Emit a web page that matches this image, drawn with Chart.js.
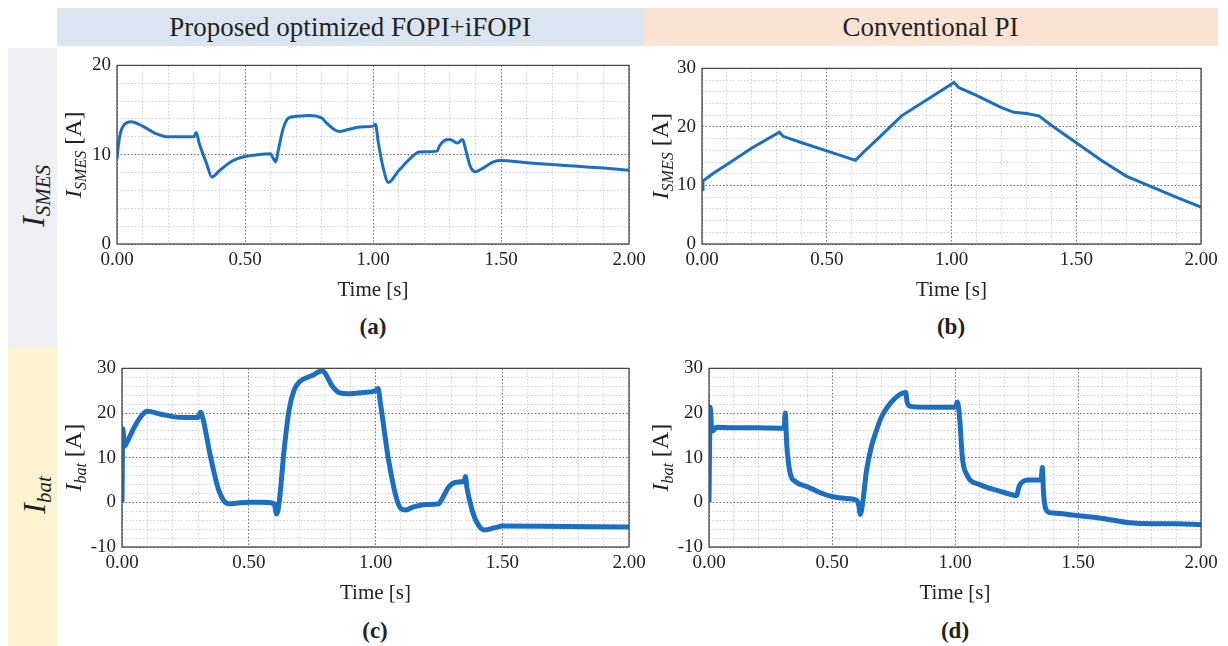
<!DOCTYPE html>
<html>
<head>
<meta charset="utf-8">
<script src="https://cdn.jsdelivr.net/npm/chart.js@4"></script>
<style>
  body { margin: 0; width: 1228px; height: 646px; background: #fff; overflow: hidden; position: relative; font-family: "Liberation Serif", serif; }
  .band { position: absolute; }
  .head { display: flex; align-items: center; justify-content: center; font-size: 27px; color: #222; }
  .side { position: absolute; transform: translate(-50%, -50%) rotate(-90deg); white-space: nowrap; font-size: 32px; font-style: italic; color: #222; }
  .side sub { font-size: 21px; vertical-align: -6px; }
  .cap { position: absolute; transform: translate(-50%, -50%); font-size: 23px; font-weight: bold; color: #222; }
  canvas { position: absolute; }
</style>
</head>
<body>
<div class="band head" style="left:57px;top:8px;width:586px;height:38px;background:#dbe5f1;">Proposed optimized FOPI+iFOPI</div>
<div class="band head" style="left:643px;top:8px;width:575px;height:38px;background:#fbe3d4;">Conventional PI</div>
<div class="band" style="left:8px;top:48px;width:49px;height:300px;background:#eef0f3;"></div>
<div class="band" style="left:8px;top:348px;width:49px;height:298px;background:#fdf3d0;"></div>
<div class="side" style="left:35px;top:196px;">I<sub>SMES</sub></div>
<div class="side" style="left:36px;top:495px;">I<sub>bat</sub></div>

<canvas id="chartA"></canvas>
<canvas id="chartB"></canvas>
<canvas id="chartC"></canvas>
<canvas id="chartD"></canvas>

<div class="cap" style="left:373px;top:327px;">(a)</div>
<div class="cap" style="left:951px;top:327px;">(b)</div>
<div class="cap" style="left:375px;top:631px;">(c)</div>
<div class="cap" style="left:955px;top:631px;">(d)</div>

<script>
// ---- time [s], current [A] ----
const ismesFopi = [
  [0, 9.5], [0.005, 11.0], [0.015, 12.6], [0.03, 13.4], [0.055, 13.7], [0.1, 13.2],
  [0.15, 12.4], [0.2, 12.0], [0.25, 12.0], [0.3, 12.0], [0.31, 12.5], [0.32, 11.4],
  [0.35, 9.0], [0.37, 7.5], [0.4, 8.2], [0.45, 9.3], [0.5, 9.8], [0.55, 10.0],
  [0.6, 10.1], [0.61, 9.6], [0.62, 9.2], [0.63, 10.5], [0.65, 13.0], [0.67, 14.1],
  [0.7, 14.3], [0.75, 14.4], [0.8, 14.1], [0.82, 13.5], [0.85, 12.8], [0.87, 12.6],
  [0.9, 12.8], [0.95, 13.1], [1.0, 13.2], [1.01, 13.4], [1.02, 11.5], [1.04, 8.5],
  [1.06, 6.9], [1.1, 8.2], [1.15, 9.7], [1.18, 10.3], [1.25, 10.4], [1.26, 11.0],
  [1.28, 11.6], [1.3, 11.7], [1.33, 11.3], [1.35, 11.7], [1.36, 10.8], [1.38, 8.7],
  [1.4, 8.1], [1.43, 8.5], [1.47, 9.2], [1.5, 9.35], [1.6, 9.1], [1.7, 8.9],
  [1.8, 8.7], [1.9, 8.5], [2.0, 8.25]
];

const ismesPi = [
  [0, 9.3], [0.004, 10.8], [0.05, 12.2], [0.1, 13.6], [0.2, 16.4], [0.31, 19.1],
  [0.325, 18.4], [0.4, 17.3], [0.5, 15.9], [0.6, 14.5], [0.615, 14.3], [0.65, 15.8],
  [0.7, 17.8], [0.8, 21.9], [0.9, 24.6], [1.01, 27.6], [1.03, 26.7], [1.1, 25.4],
  [1.2, 23.3], [1.25, 22.5], [1.3, 22.3], [1.35, 21.9], [1.4, 20.3], [1.5, 17.3],
  [1.6, 14.3], [1.7, 11.6], [1.8, 9.8], [1.9, 8.0], [2.0, 6.3]
];

const ibatFopi = [
  [0, 0], [0.003, 16.5], [0.01, 12.6], [0.02, 13.5], [0.05, 17.0], [0.08, 19.6],
  [0.1, 20.4], [0.15, 19.8], [0.2, 19.2], [0.25, 19.0], [0.3, 19.0], [0.31, 20.2],
  [0.32, 18.6], [0.35, 10.0], [0.38, 3.0], [0.4, 0.5], [0.42, -0.3], [0.45, -0.2],
  [0.5, 0], [0.55, 0], [0.6, -0.3], [0.61, -2.6], [0.62, 0], [0.64, 12.0],
  [0.66, 21.0], [0.68, 25.3], [0.7, 27.0], [0.75, 28.4], [0.79, 29.5], [0.8, 29.0],
  [0.83, 26.0], [0.86, 24.5], [0.9, 24.3], [0.95, 24.6], [1.0, 25.0], [1.01, 25.5],
  [1.02, 22.0], [1.05, 10.0], [1.08, 1.5], [1.1, -1.4], [1.12, -1.7], [1.15, -1.0],
  [1.2, -0.5], [1.25, -0.3], [1.26, 0.5], [1.29, 3.5], [1.32, 4.5], [1.35, 4.8],
  [1.355, 5.8], [1.36, 3.5], [1.38, -1.5], [1.4, -4.5], [1.43, -6.2], [1.47, -5.7],
  [1.5, -5.3], [1.75, -5.4], [2.0, -5.5]
];

const ibatPi = [
  [0, 0], [0.005, 21.3], [0.01, 17.0], [0.015, 16.0], [0.03, 16.8], [0.1, 16.7],
  [0.2, 16.7], [0.305, 16.6], [0.31, 20.0], [0.316, 13.0], [0.33, 6.5], [0.35, 4.7],
  [0.4, 3.5], [0.45, 2.2], [0.5, 1.3], [0.55, 0.9], [0.6, 0.5], [0.61, -1.0],
  [0.615, -2.7], [0.625, 0], [0.64, 7.0], [0.66, 12.5], [0.68, 16.0], [0.7, 19.0],
  [0.75, 23.0], [0.8, 24.6], [0.805, 22.5], [0.82, 21.5], [0.9, 21.3], [1.0, 21.3],
  [1.01, 22.5], [1.02, 18.0], [1.03, 10.0], [1.05, 6.0], [1.1, 4.0], [1.15, 3.0],
  [1.2, 2.2], [1.25, 1.5], [1.26, 3.5], [1.28, 4.8], [1.3, 5.0], [1.35, 5.0],
  [1.355, 7.8], [1.36, 2.0], [1.375, -2.0], [1.4, -2.4], [1.5, -3.0], [1.6, -3.6],
  [1.7, -4.5], [1.8, -4.8], [1.9, -4.8], [2.0, -5.0]
];

const timeRange = [0, 2];
const timeMajor = 0.5;
const timeMinor = 0.1;
const ismesRange = { a: [0, 20], b: [0, 30] };
const ibatRange = [-10, 30];
const currentMajor = 10;
const currentMinor = 2;

const LINE_BLUE = "#1c6fc0";
const SERIF = "'Liberation Serif', serif";

// box around the plot area + y title with italic symbol and subscript
const framePlugin = {
  id: "frame",
  afterDraw(chart, args, opts) {
    const { ctx, chartArea: a } = chart;
    ctx.save();
    ctx.strokeStyle = "#4a4a4a";
    ctx.lineWidth = 1.3;
    ctx.strokeRect(a.left, a.top, a.right - a.left, a.bottom - a.top);
    ctx.restore();

    const parts = [
      { text: "I", font: "italic 24px " + SERIF, dy: 8 },
      { text: opts.sub, font: "italic 16px " + SERIF, dy: 13 },
      { text: " [A]", font: "24px " + SERIF, dy: 8 },
    ];
    ctx.save();
    ctx.translate(a.left - opts.offset, (a.top + a.bottom) / 2);
    ctx.rotate(-Math.PI / 2);
    ctx.fillStyle = "#222";
    ctx.textBaseline = "alphabetic";
    let total = 0;
    parts.forEach((p) => { ctx.font = p.font; p.w = ctx.measureText(p.text).width; total += p.w; });
    let x = -total / 2;
    parts.forEach((p) => { ctx.font = p.font; ctx.fillText(p.text, x, p.dy); x += p.w; });
    ctx.restore();
  },
};

function isMultiple(v, step) {
  return Math.abs(v / step - Math.round(v / step)) < 1e-6;
}

function gridColor(step) {
  return (c) => (c.tick && isMultiple(c.tick.value, step) ? "rgba(60,60,60,0.75)" : "rgba(150,150,150,0.45)");
}

// plot box given in page pixels: left, top, right, bottom
function makePanel(id, box, series, yRange, sub, lineWidth, smooth, titleOffset) {
  const padL = 72, padT = 12, padR = 26, xAxisH = 61;
  const canvas = document.getElementById(id);
  const w = box.right - box.left + padL + padR;
  const h = box.bottom - box.top + padT + xAxisH;
  canvas.style.left = box.left - padL + "px";
  canvas.style.top = box.top - padT + "px";
  canvas.style.width = w + "px";
  canvas.style.height = h + "px";
  canvas.width = w;
  canvas.height = h;

  new Chart(canvas.getContext("2d"), {
    type: "line",
    data: {
      datasets: [
        {
          data: series.map((p) => ({ x: p[0], y: p[1] })),
          borderColor: LINE_BLUE,
          borderWidth: lineWidth,
          pointRadius: 0,
          cubicInterpolationMode: smooth ? "monotone" : "default",
          tension: 0,
        },
      ],
    },
    options: {
      responsive: false,
      animation: false,
      events: [],
      layout: { padding: { left: 0, top: padT, right: padR, bottom: 0 } },
      plugins: {
        legend: { display: false },
        tooltip: { enabled: false },
        frame: { sub: sub, offset: titleOffset },
      },
      scales: {
        x: {
          type: "linear",
          min: timeRange[0],
          max: timeRange[1],
          afterFit: (s) => { s.height = xAxisH; s.paddingLeft = 0; s.paddingRight = 0; },
          ticks: {
            stepSize: timeMinor,
            autoSkip: false,
            maxRotation: 0,
            padding: 5,
            color: "#222",
            font: { family: SERIF, size: 19 },
            callback: (v) => (isMultiple(v, timeMajor) ? v.toFixed(2) : ""),
          },
          grid: { color: gridColor(timeMajor), lineWidth: 1, drawTicks: false },
          border: { display: false, dash: [1.5, 2] },
          title: {
            display: true,
            text: "Time [s]",
            color: "#222",
            font: { family: SERIF, size: 21 },
            padding: { top: 0, bottom: 2 },
          },
        },
        y: {
          min: yRange[0],
          max: yRange[1],
          afterFit: (s) => { s.width = padL; },
          ticks: {
            stepSize: currentMinor,
            autoSkip: false,
            padding: 6,
            color: "#222",
            font: { family: SERIF, size: 19 },
            callback: (v) => (isMultiple(v, currentMajor) ? String(v) : ""),
          },
          grid: { color: gridColor(currentMajor), lineWidth: 1, drawTicks: false },
          border: { display: false, dash: [1.5, 2] },
        },
      },
    },
    plugins: [framePlugin],
  });
}

makePanel("chartA", { left: 117, top: 60, right: 629, bottom: 244 }, ismesFopi, ismesRange.a, "SMES", 3, true, 44);
makePanel("chartB", { left: 702, top: 63, right: 1201, bottom: 244 }, ismesPi, ismesRange.b, "SMES", 3, false, 42);
makePanel("chartC", { left: 122, top: 363, right: 629, bottom: 547 }, ibatFopi, ibatRange, "bat", 5, true, 49);
makePanel("chartD", { left: 709, top: 363, right: 1201, bottom: 547 }, ibatPi, ibatRange, "bat", 5, true, 49);
</script>
</body>
</html>
